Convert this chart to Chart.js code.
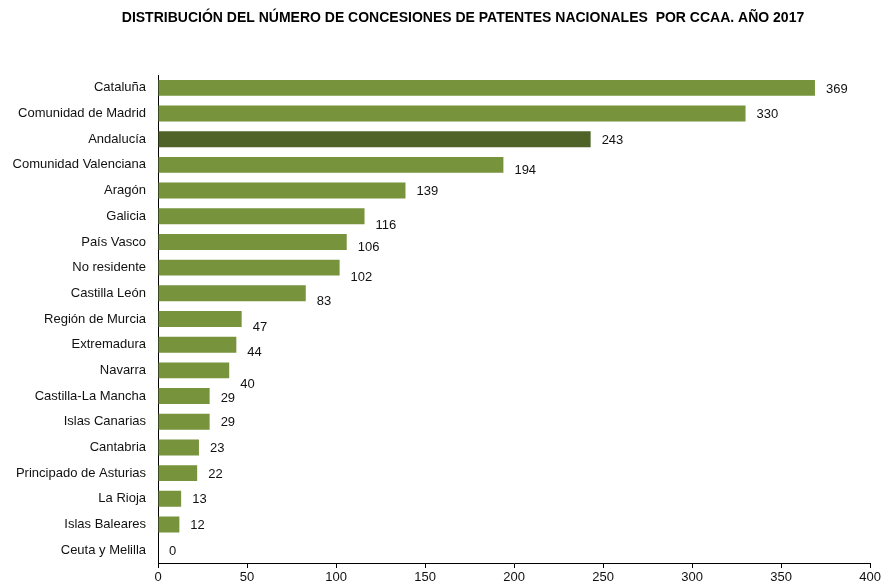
<!DOCTYPE html>
<html>
<head>
<meta charset="utf-8">
<script src="https://cdn.jsdelivr.net/npm/chart.js@4"></script>
<style>
html,body{margin:0;padding:0;background:#fff;}
#wrap{width:883px;height:586px;position:relative;}
</style>
</head>
<body>
<div id="wrap"><canvas id="c" width="883" height="586"></canvas></div>
<script>
const titleText = 'DISTRIBUCIÓN DEL NÚMERO DE CONCESIONES DE PATENTES NACIONALES  POR CCAA. AÑO 2017';
const categories = ['Cataluña','Comunidad de Madrid','Andalucía','Comunidad Valenciana','Aragón','Galicia','País Vasco','No residente','Castilla León','Región de Murcia','Extremadura','Navarra','Castilla-La Mancha','Islas Canarias','Cantabria','Principado de Asturias','La Rioja','Islas Baleares','Ceuta y Melilla'];
const values = [369,330,243,194,139,116,106,102,83,47,44,40,29,29,23,22,13,12,0];
const highlighted = ['Andalucía'];
const xTicks = [0,50,100,150,200,250,300,350,400];

const FONT = '"Liberation Sans", Arial, sans-serif';
const baseColor = '#77933C';
const highlightColor = '#4F6228';
const labelNudgeY = [1,0,0,5,0,8,4,9,7,7,7,13,1,0,0,0,0,0,0];

const titlePlugin = {
  id: 'titleDraw',
  afterDraw(chart) {
    const ctx = chart.ctx;
    ctx.save();
    ctx.font = 'bold 14px ' + FONT;
    ctx.fillStyle = '#000';
    ctx.textAlign = 'center';
    ctx.textBaseline = 'middle';
    ctx.fillText(titleText, 463, 18);
    ctx.restore();
  }
};
const valueLabels = {
  id: 'valueLabels',
  afterDatasetsDraw(chart) {
    const ctx = chart.ctx;
    const meta = chart.getDatasetMeta(0);
    ctx.save();
    ctx.font = '13px ' + FONT;
    ctx.fillStyle = '#111';
    ctx.textAlign = 'left';
    ctx.textBaseline = 'middle';
    meta.data.forEach((bar, i) => {
      ctx.fillText(String(values[i]), bar.x + 11, bar.y + 1 + labelNudgeY[i]);
    });
    ctx.restore();
  }
};

new Chart(document.getElementById('c'), {
  type: 'bar',
  data: {
    labels: categories,
    datasets: [{
      data: values,
      backgroundColor: categories.map(c => highlighted.includes(c) ? highlightColor : baseColor),
      borderWidth: 0,
      barPercentage: 0.62,
      categoryPercentage: 1
    }]
  },
  options: {
    indexAxis: 'y',
    responsive: false,
    animation: false,
    events: [],
    layout: { padding: { top: 75, right: 0, bottom: 0, left: 0 } },
    plugins: { legend: { display: false }, title: { display: false }, tooltip: { enabled: false } },
    scales: {
      x: {
        min: 0, max: 400,
        afterBuildTicks(scale) { scale.ticks = xTicks.map(v => ({ value: v })); },
        afterFit(scale) { scale.height = 23; },
        grid: { drawOnChartArea: false, drawTicks: true, tickLength: 5, color: '#000' },
        border: { display: true, color: '#000', width: 1 },
        ticks: { color: '#111', font: { family: FONT, size: 13 }, padding: 2, maxRotation: 0 }
      },
      y: {
        afterFit(scale) { scale.width = 158; },
        grid: { display: false, drawTicks: false },
        border: { display: true, color: '#000', width: 1 },
        ticks: { color: '#111', font: { family: FONT, size: 13 }, padding: 12, autoSkip: false }
      }
    }
  },
  plugins: [titlePlugin, valueLabels]
});
</script>
</body>
</html>
